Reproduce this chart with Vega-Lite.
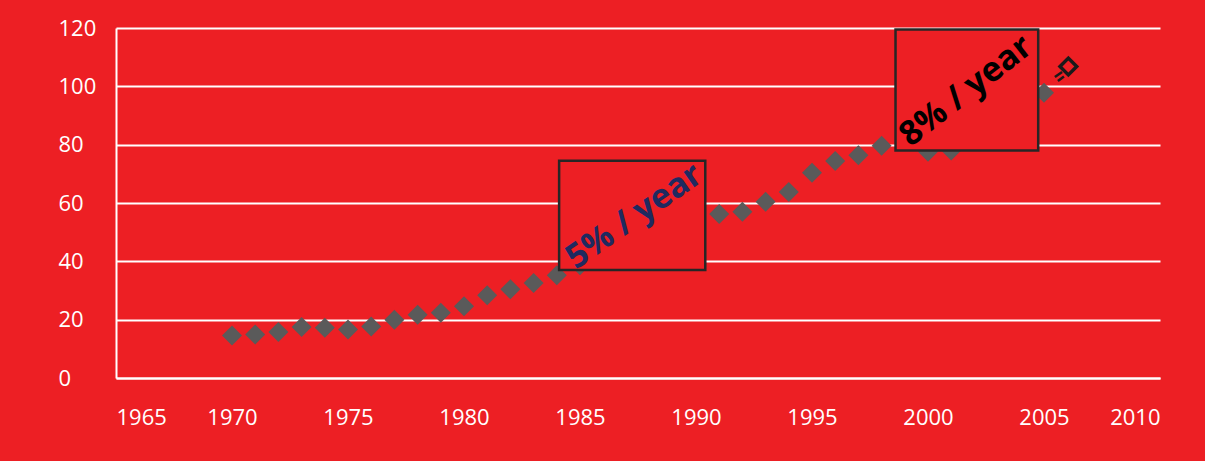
{
  "$schema": "https://vega.github.io/schema/vega-lite/v6.json",
  "width": 1044,
  "height": 350,
  "autosize": {"type": "none"},
  "padding": {"left": 116, "top": 28, "right": 45, "bottom": 83},
  "background": "#ED1F24",
  "config": {
    "view": {"stroke": null},
    "axis": {"labelFont": "Open Sans", "labelFontSize": 22, "labelColor": "#FFFFFF", "title": null, "ticks": false, "tickSize": 0, "domainColor": "#FFFFFF", "domainWidth": 2, "gridColor": "#FFFFFF", "gridWidth": 2, "gridOpacity": 1, "zindex": 1}
  },
  "datasets": {
    "series": [
      {"year": 1970, "value": 14.6}, {"year": 1971, "value": 14.9}, {"year": 1972, "value": 15.8},
      {"year": 1973, "value": 17.5}, {"year": 1974, "value": 17.2}, {"year": 1975, "value": 16.6},
      {"year": 1976, "value": 17.7}, {"year": 1977, "value": 20.0}, {"year": 1978, "value": 21.7},
      {"year": 1979, "value": 22.4}, {"year": 1980, "value": 24.6}, {"year": 1981, "value": 28.4},
      {"year": 1982, "value": 30.4}, {"year": 1983, "value": 32.6}, {"year": 1984, "value": 35.2},
      {"year": 1985, "value": 38.7}, {"year": 1991, "value": 56.2}, {"year": 1992, "value": 57.0},
      {"year": 1993, "value": 60.4}, {"year": 1994, "value": 63.8}, {"year": 1995, "value": 70.4},
      {"year": 1996, "value": 74.4}, {"year": 1997, "value": 76.4}, {"year": 1998, "value": 79.6},
      {"year": 2000, "value": 77.6}, {"year": 2001, "value": 78.0}, {"year": 2005, "value": 97.8}
    ],
    "boxes": [
      {"x1": 1984.1, "x2": 1990.4, "y1": 37.0, "y2": 74.5},
      {"x1": 1998.6, "x2": 2004.75, "y1": 78.0, "y2": 119.5}
    ],
    "label5": [{"year": 1987.35, "value": 55.3, "text": "5% / year"}],
    "label8": [{"year": 2001.65, "value": 98.3, "text": "8% / year"}],
    "last": [{"year": 2006.05, "value": 106.8}],
    "tail": [
      {"xa": 2005.47, "ya": 103.2, "xb": 2005.78, "yb": 104.9},
      {"xa": 2005.6, "ya": 101.8, "xb": 2005.86, "yb": 103.4}
    ]
  },
  "layer": [
    {
      "data": {"name": "series"},
      "mark": {"type": "point", "shape": "diamond", "filled": true, "size": 400, "color": "#5A5A5A", "opacity": 1},
      "encoding": {
        "x": {"field": "year", "type": "quantitative", "scale": {"domain": [1965, 2010], "nice": false, "zero": false},
              "axis": {"values": [1965, 1970, 1975, 1980, 1985, 1990, 1995, 2000, 2005, 2010], "format": "d", "grid": false, "labelPadding": 39, "labelBaseline": "middle"}},
        "y": {"field": "value", "type": "quantitative", "scale": {"domain": [0, 120], "nice": false},
              "axis": {"values": [0, 20, 40, 60, 80, 100, 120], "grid": true, "labelAlign": "left", "labelPadding": 58, "labelBaseline": "middle"}}
      }
    },
    {
      "data": {"name": "boxes"},
      "mark": {"type": "rect", "fill": "#ED1F24", "stroke": "#262626", "strokeWidth": 2.5},
      "encoding": {
        "x": {"field": "x1", "type": "quantitative"},
        "x2": {"field": "x2"},
        "y": {"field": "y1", "type": "quantitative"},
        "y2": {"field": "y2"}
      }
    },
    {
      "data": {"name": "label5"},
      "mark": {"type": "text", "font": "Open Sans", "fontSize": 34, "fontWeight": "bold", "color": "#1F2A60", "angle": -35, "align": "center", "baseline": "middle"},
      "encoding": {
        "x": {"field": "year", "type": "quantitative"},
        "y": {"field": "value", "type": "quantitative"},
        "text": {"field": "text"}
      }
    },
    {
      "data": {"name": "label8"},
      "mark": {"type": "text", "font": "Open Sans", "fontSize": 34, "fontWeight": "bold", "color": "#000000", "angle": -38, "align": "center", "baseline": "middle"},
      "encoding": {
        "x": {"field": "year", "type": "quantitative"},
        "y": {"field": "value", "type": "quantitative"},
        "text": {"field": "text"}
      }
    },
    {
      "data": {"name": "tail"},
      "mark": {"type": "rule", "color": "#1A1A1A", "strokeWidth": 2.5},
      "encoding": {
        "x": {"field": "xa", "type": "quantitative"},
        "x2": {"field": "xb"},
        "y": {"field": "ya", "type": "quantitative"},
        "y2": {"field": "yb"}
      }
    },
    {
      "data": {"name": "last"},
      "mark": {"type": "point", "shape": "diamond", "filled": false, "size": 280, "stroke": "#1A1A1A", "strokeWidth": 3.5, "opacity": 1},
      "encoding": {
        "x": {"field": "year", "type": "quantitative"},
        "y": {"field": "value", "type": "quantitative"}
      }
    }
  ]
}
